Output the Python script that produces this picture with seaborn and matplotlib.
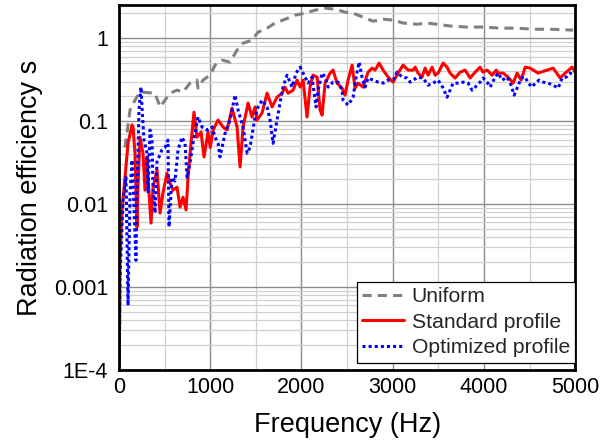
import matplotlib
matplotlib.use("Agg")
import matplotlib.pyplot as plt
import matplotlib.ticker as mticker
import numpy as np
import pandas as pd
import seaborn as sns

# Radiation efficiency of a plate for three thickness profiles
uniform_freq = [66, 121, 175, 230, 395, 450, 504, 559, 636, 702, 778, 855, 866, 921, 998,
                1053, 1129, 1217, 1294, 1360, 1458, 1524, 1623, 1711, 1798, 1930, 2039,
                2149, 2259, 2368, 2478, 2566, 2675, 2785, 2895, 3004, 3114, 3268, 3377,
                3487, 3629, 3816, 3991, 4178, 4364, 4539, 4726, 4978]
uniform_eff = [0.048, 0.136, 0.179, 0.224, 0.217, 0.148, 0.179, 0.217, 0.236, 0.224, 0.287,
               0.312, 0.25, 0.312, 0.358, 0.473, 0.543, 0.514, 0.717, 0.87, 0.946, 1.18,
               1.32, 1.52, 1.65, 1.89, 2.0, 2.17, 2.30, 2.23, 2.06, 2.0, 1.79, 1.60, 1.69,
               1.65, 1.52, 1.47, 1.52, 1.47, 1.40, 1.36, 1.36, 1.32, 1.32, 1.28, 1.28, 1.25]

standard_freq = [3, 11, 33, 66, 99, 143, 154, 175, 197, 208, 230, 263, 285, 307, 318, 351,
                 373, 417, 450, 482, 526, 559, 592, 636, 669, 702, 735, 757, 789, 822, 855,
                 899, 932, 976, 1000, 1031, 1086, 1140, 1184, 1239, 1294, 1327, 1360, 1415,
                 1458, 1491, 1513, 1568, 1623, 1678, 1732, 1787, 1820, 1853, 1908, 1952,
                 1985, 2018, 2061, 2094, 2127, 2171, 2204, 2226, 2259, 2314, 2346, 2390,
                 2445, 2478, 2511, 2555, 2588, 2621, 2675, 2730, 2774, 2807, 2851, 2895,
                 2950, 3004, 3059, 3114, 3169, 3224, 3246, 3278, 3322, 3355, 3388, 3432,
                 3465, 3498, 3553, 3596, 3629, 3684, 3739, 3794, 3849, 3904, 3958, 3991,
                 4035, 4090, 4134, 4156, 4211, 4265, 4320, 4364, 4408, 4452, 4507, 4594,
                 4693, 4759, 4836, 4890, 4967, 5000]
standard_eff = [1.2e-4, 0.0021, 0.0085, 0.021, 0.054, 0.090, 0.085, 0.041, 0.0053, 0.016,
                0.064, 0.041, 0.0147, 0.037, 0.021, 0.0059, 0.016, 0.0257, 0.0078, 0.0136,
                0.0236, 0.018, 0.0147, 0.016, 0.0092, 0.0121, 0.0085, 0.021, 0.054, 0.128,
                0.064, 0.074, 0.037, 0.074, 0.048, 0.078, 0.103, 0.085, 0.078, 0.143, 0.085,
                0.028, 0.085, 0.165, 0.112, 0.148, 0.103, 0.125, 0.217, 0.148, 0.194, 0.217,
                0.257, 0.217, 0.236, 0.312, 0.257, 0.312, 0.112, 0.257, 0.358, 0.339, 0.136,
                0.118, 0.287, 0.379, 0.412, 0.287, 0.25, 0.206, 0.312, 0.473, 0.25, 0.287,
                0.257, 0.389, 0.435, 0.412, 0.5, 0.412, 0.339, 0.295, 0.379, 0.473, 0.412,
                0.412, 0.447, 0.379, 0.339, 0.435, 0.358, 0.447, 0.358, 0.379, 0.5, 0.447,
                0.379, 0.33, 0.389, 0.412, 0.33, 0.389, 0.447, 0.389, 0.412, 0.358, 0.412,
                0.379, 0.379, 0.339, 0.287, 0.379, 0.312, 0.447, 0.435, 0.379, 0.412, 0.435,
                0.33, 0.379, 0.447, 0.389]

optimized_freq = [3, 11, 44, 77, 99, 121, 143, 154, 186, 197, 219, 241, 252, 274, 307, 318,
                  340, 362, 373, 395, 417, 439, 471, 504, 537, 548, 581, 614, 647, 691, 724,
                  746, 778, 811, 866, 910, 965, 1020, 1053, 1086, 1107, 1162, 1217, 1272,
                  1305, 1360, 1404, 1436, 1491, 1524, 1568, 1623, 1656, 1689, 1732, 1765,
                  1798, 1842, 1897, 1941, 1985, 2018, 2072, 2116, 2160, 2182, 2226, 2259,
                  2292, 2346, 2400, 2445, 2456, 2511, 2566, 2599, 2632, 2664, 2697, 2730,
                  2785, 2840, 2895, 2950, 3004, 3048, 3103, 3158, 3191, 3224, 3278, 3333,
                  3388, 3443, 3498, 3553, 3596, 3629, 3662, 3717, 3772, 3827, 3871, 3904,
                  3958, 3991, 4035, 4068, 4123, 4156, 4200, 4254, 4298, 4331, 4364, 4408,
                  4452, 4485, 4529, 4562, 4605, 4649, 4704, 4759, 4814, 4857, 4901, 4945,
                  4978]
optimized_eff = [1.1e-4, 0.0013, 0.011, 0.021, 6.0e-4, 0.0136, 0.034, 0.019, 0.0021, 0.0136,
                 0.136, 0.257, 0.148, 0.059, 0.041, 0.0136, 0.078, 0.059, 0.016, 0.0078,
                 0.034, 0.037, 0.045, 0.048, 0.059, 0.0053, 0.021, 0.019, 0.045, 0.064,
                 0.054, 0.021, 0.031, 0.054, 0.112, 0.085, 0.078, 0.085, 0.064, 0.054, 0.037,
                 0.071, 0.103, 0.206, 0.136, 0.085, 0.041, 0.048, 0.112, 0.148, 0.179, 0.148,
                 0.103, 0.054, 0.103, 0.165, 0.257, 0.358, 0.257, 0.379, 0.447, 0.379, 0.287,
                 0.339, 0.148, 0.236, 0.379, 0.339, 0.257, 0.295, 0.295, 0.236, 0.179, 0.156,
                 0.194, 0.339, 0.514, 0.339, 0.257, 0.33, 0.312, 0.295, 0.287, 0.312, 0.312,
                 0.389, 0.339, 0.33, 0.295, 0.312, 0.339, 0.33, 0.271, 0.287, 0.312, 0.25,
                 0.194, 0.236, 0.287, 0.287, 0.295, 0.287, 0.236, 0.257, 0.295, 0.33, 0.295,
                 0.257, 0.339, 0.379, 0.312, 0.339, 0.271, 0.206, 0.25, 0.33, 0.339, 0.287,
                 0.257, 0.287, 0.312, 0.295, 0.287, 0.271, 0.25, 0.33, 0.339, 0.379, 0.358]

series_names = ["Uniform", "Standard profile", "Optimized profile"]
y_tick_values = [1e-4, 1e-3, 1e-2, 1e-1, 1]
y_tick_labels = ["1E-4", "0.001", "0.01", "0.1", "1"]
x_tick_values = [0, 1000, 2000, 3000, 4000, 5000]

df = pd.concat([
    pd.DataFrame({"freq": uniform_freq, "eff": uniform_eff, "profile": series_names[0]}),
    pd.DataFrame({"freq": standard_freq, "eff": standard_eff, "profile": series_names[1]}),
    pd.DataFrame({"freq": optimized_freq, "eff": optimized_eff, "profile": series_names[2]}),
], ignore_index=True)

sns.set_theme(style="white")
plt.rcParams["font.family"] = ["Liberation Sans", "DejaVu Sans"]

fig = plt.figure(figsize=(6.01, 4.45), dpi=100)
ax = fig.add_axes([0.198, 0.1685, 0.759, 0.820])

palette = {series_names[0]: "#808080", series_names[1]: "#ff0000", series_names[2]: "#0000ff"}
dashes = {series_names[0]: (3, 2), series_names[1]: "", series_names[2]: (1, 1)}

sns.lineplot(data=df, x="freq", y="eff", hue="profile", style="profile",
             palette=palette, dashes=dashes, estimator=None, sort=False,
             linewidth=2.2, ax=ax, legend=True)

ax.set_yscale("log")
ax.set_xlim(0, 5000)
ax.set_ylim(1e-4, 2.5)

ax.xaxis.set_major_locator(mticker.FixedLocator(x_tick_values))
ax.xaxis.set_minor_locator(mticker.MultipleLocator(500))
ax.yaxis.set_major_locator(mticker.FixedLocator(y_tick_values))
ax.yaxis.set_major_formatter(mticker.FixedFormatter(y_tick_labels))
ax.yaxis.set_minor_locator(mticker.LogLocator(base=10, subs=np.arange(2, 10)))
ax.yaxis.set_minor_formatter(mticker.NullFormatter())

ax.grid(which="major", color="#8c8c8c", linewidth=1.0)
ax.grid(which="minor", color="#d0d0d0", linewidth=0.9)
ax.set_axisbelow(True)

ax.tick_params(which="both", length=0, labelsize=15.5, colors="black")
ax.tick_params(axis="y", pad=8)
ax.tick_params(axis="x", pad=5)

for sp in ax.spines.values():
    sp.set_color("black")
    sp.set_linewidth(2.0)

ax.set_xlabel("Frequency (Hz)", fontsize=19.5, labelpad=10, color="black")
ax.set_ylabel("Radiation efficiency s", fontsize=19.5, labelpad=8, color="black")

handles, labels = ax.get_legend_handles_labels()
leg = ax.legend(handles, labels, loc="lower right", bbox_to_anchor=(1.0, 0.02),
                fontsize=15.2, frameon=True, fancybox=False, borderaxespad=0.0,
                handlelength=2.0, handletextpad=0.35, labelspacing=0.32,
                borderpad=0.25)
leg.get_frame().set_edgecolor("black")
leg.get_frame().set_linewidth(0.9)
leg.get_frame().set_alpha(1.0)

fig.savefig("out.png", dpi=100)
